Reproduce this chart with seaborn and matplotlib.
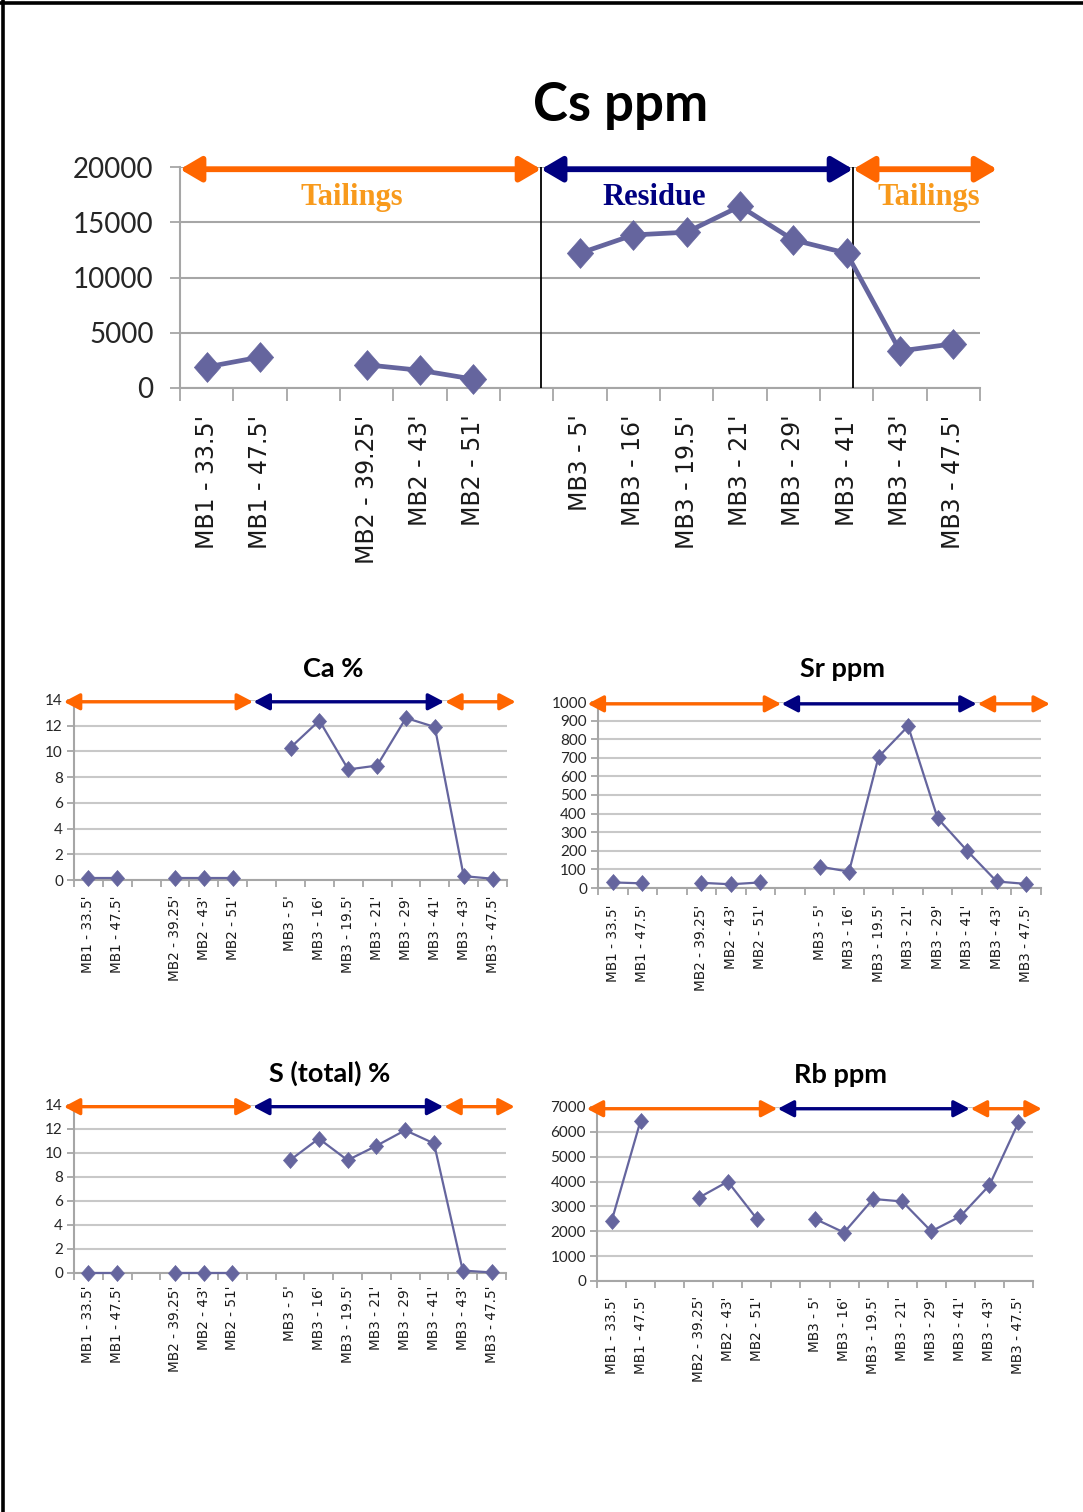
import numpy as np
import pandas as pd
import matplotlib
matplotlib.use("Agg")
import matplotlib.pyplot as plt
import matplotlib.transforms as mtransforms
from matplotlib.patches import FancyArrowPatch
from matplotlib.lines import Line2D
from matplotlib.path import Path
import seaborn as sns

# Sample slots along the x axis (blank slots separate the boreholes)
categories = ["MB1 - 33.5'", "MB1 - 47.5'", "", "MB2 - 39.25'", "MB2 - 43'", "MB2 - 51'", "",
              "MB3 - 5'", "MB3 - 16'", "MB3 - 19.5'", "MB3 - 21'", "MB3 - 29'", "MB3 - 41'",
              "MB3 - 43'", "MB3 - 47.5'"]

cs_ppm = [1900, 2800, None, 2100, 1600, 800, None, 12200, 13850, 14100, 16450, 13400, 12200, 3350, 4000]
ca_pct = [0.15, 0.15, None, 0.15, 0.15, 0.15, None, 10.3, 12.4, 8.6, 8.9, 12.6, 11.9, 0.3, 0.1]
sr_ppm = [30, 25, None, 28, 20, 30, None, 115, 88, 705, 870, 375, 200, 35, 22]
s_pct = [0.03, 0.03, None, 0.03, 0.03, 0.03, None, 9.4, 11.2, 9.4, 10.6, 11.9, 10.8, 0.2, 0.05]
rb_ppm = [2400, 6450, None, 3350, 4000, 2500, None, 2500, 1950, 3300, 3200, 2000, 2600, 3850, 6380]

zone_names = ["Tailings", "Residue", "Tailings"]

LINE = "#65659E"
ORANGE = "#FF6600"
NAVY = "#000080"
GOLD = "#F89A1C"
GRID = "#A6A6A6"

# Slightly tall diamond marker
DIAMOND = Path([(0, 1), (0.88, 0), (0, -1), (-0.88, 0), (0, 1)],
               [Path.MOVETO, Path.LINETO, Path.LINETO, Path.LINETO, Path.CLOSEPOLY])

sns.set_theme(style="white")
plt.rcParams["font.family"] = ["DejaVu Sans"]


def to_frame(values):
    rows = []
    seg = 0
    for i, v in enumerate(values):
        if v is None:
            seg += 1
            continue
        rows.append({"pos": i, "value": v, "seg": seg})
    return pd.DataFrame(rows)


def draw_panel(ax, values, ymax, ystep, big=False, xpad=12):
    df = to_frame(values)
    lw = 3.4 if big else 1.6
    ms = 21.5 if big else 11.5
    sns.lineplot(data=df, x="pos", y="value", units="seg", estimator=None, ax=ax,
                 color=LINE, lw=lw, marker=DIAMOND, markersize=ms,
                 markeredgecolor=LINE, markeredgewidth=0.5, legend=False)
    for ln in ax.lines:
        ln.set_clip_on(False)
        ln.set_zorder(6)
    n = len(categories)
    ax.set_xlim(-0.5, n - 0.5)
    ax.set_ylim(0, ymax)
    ax.set_xlabel("")
    ax.set_ylabel("")
    yt = np.arange(0, ymax + ystep / 2, ystep)
    ax.set_yticks(yt)
    ax.set_yticklabels([f"{int(v)}" for v in yt], family="Lato",
                       fontsize=20 if big else 11, color="#262626")
    ax.set_xticks(range(n))
    ax.set_xticklabels(categories, rotation=90, fontsize=17 if big else 9.8,
                       family="DejaVu Sans", color="#1a1a1a")
    ax.set_xticks(np.arange(-0.5, n, 1.0), minor=True)
    ax.tick_params(axis="x", which="major", length=0, pad=xpad)
    ax.tick_params(axis="x", which="minor", length=9 if big else 5, width=1.3,
                   color=GRID, direction="out", bottom=True)
    ax.tick_params(axis="y", length=7 if big else 5, width=1.3, color=GRID,
                   direction="out", left=True, pad=12 if big else 3)
    ax.grid(axis="y", color=GRID if big else "#C8C8C8", lw=1.5)
    ax.grid(axis="x", visible=False)
    for side in ("top", "right"):
        ax.spines[side].set_visible(False)
    for side in ("left", "bottom"):
        ax.spines[side].set_color(GRID)
        ax.spines[side].set_linewidth(1.5)
    ax.set_facecolor("white")


def draw_zones(ax, bounds, big=False):
    trans = mtransforms.blended_transform_factory(ax.transData, ax.transAxes)
    colors = [ORANGE, NAVY, ORANGE]
    style = ("<|-|>,head_length=0.85,head_width=0.5" if big
             else "<|-|>,head_length=0.95,head_width=0.5")
    for (x0, x1), c in zip(bounds, colors):
        arr = FancyArrowPatch((x0, 0.99), (x1, 0.99), transform=trans,
                              arrowstyle=style, mutation_scale=15 if big else 10,
                              color=c, lw=4.2 if big else 2.4, shrinkA=0, shrinkB=0,
                              clip_on=False, zorder=5)
        ax.add_patch(arr)


fig = plt.figure(figsize=(10.83, 15.12), dpi=100)
fig.patch.set_facecolor("white")

W, H = 1083.0, 1512.0


def axes_px(left, top, right, bottom):
    return fig.add_axes([left / W, 1 - bottom / H, (right - left) / W, (bottom - top) / H])


# Main Cs panel
ax_cs = axes_px(180, 167, 980, 388)
draw_panel(ax_cs, cs_ppm, 20000, 5000, big=True, xpad=19)
draw_zones(ax_cs, [(-0.5, 6.27), (6.27, 12.12), (12.12, 14.82)], big=True)
for xv in (6.27, 12.12):
    ax_cs.plot([xv, xv], [0, 20000], color="black", lw=1.3, zorder=4)
ax_cs.text(2.73, 17200, zone_names[0], color=GOLD, family="Liberation Serif",
           fontweight="bold", fontsize=22, ha="center", va="center")
ax_cs.text(8.4, 17200, zone_names[1], color=NAVY, family="Liberation Serif",
           fontweight="bold", fontsize=22, ha="center", va="center")
ax_cs.text(13.54, 17200, zone_names[2], color=GOLD, family="Liberation Serif",
           fontweight="bold", fontsize=22, ha="center", va="center")
fig.text(621 / W, 1 - 105 / H, "Cs ppm", family="Lato", fontweight="bold",
         fontsize=38, ha="center", va="center", color="black")

small_bounds = [(-0.85, 5.7), (5.72, 12.32), (12.36, 14.8)]

ax_ca = axes_px(74, 700, 507, 880)
draw_panel(ax_ca, ca_pct, 14, 2, xpad=11)
draw_zones(ax_ca, small_bounds)
fig.text(333 / W, 1 - 669 / H, "Ca %", family="Lato", fontweight="bold",
         fontsize=19.5, ha="center", va="center", color="black")

ax_sr = axes_px(598, 702, 1041, 888)
draw_panel(ax_sr, sr_ppm, 1000, 100, xpad=12)
draw_zones(ax_sr, small_bounds)
fig.text(843 / W, 1 - 669 / H, "Sr ppm", family="Lato", fontweight="bold",
         fontsize=19.5, ha="center", va="center", color="black")

ax_s = axes_px(74, 1105, 506, 1273)
draw_panel(ax_s, s_pct, 14, 2, xpad=9)
draw_zones(ax_s, small_bounds)
fig.text(330 / W, 1 - 1073 / H, "S (total) %", family="Lato", fontweight="bold",
         fontsize=19.5, ha="center", va="center", color="black")

ax_rb = axes_px(597, 1107, 1033, 1281)
draw_panel(ax_rb, rb_ppm, 7000, 1000, xpad=11)
draw_zones(ax_rb, small_bounds)
fig.text(840 / W, 1 - 1075 / H, "Rb ppm", family="Lato", fontweight="bold",
         fontsize=19.5, ha="center", va="center", color="black")

# Page frame along the top and left edges
fig.add_artist(Line2D([0, 1], [1 - 3 / H, 1 - 3 / H], transform=fig.transFigure,
                      color="black", lw=2.6))
fig.add_artist(Line2D([3 / W, 3 / W], [0, 1], transform=fig.transFigure,
                      color="black", lw=2.6))

fig.savefig("out.png", dpi=100, facecolor="white")
